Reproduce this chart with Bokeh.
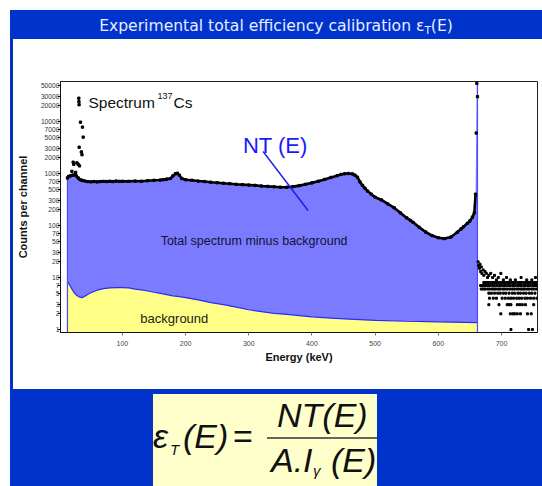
from bokeh.plotting import figure
from bokeh.models import Range1d, FixedTicker, Label, Div
from bokeh.layouts import column, row
from bokeh.embed import file_html
from bokeh.resources import INLINE

# ---------------- data ----------------
spec_energy = [13, 15, 18, 21, 24, 27, 30, 33, 36, 40, 45, 50, 55, 60, 65, 70, 75, 80,
               85, 90, 95, 100, 110, 120, 130, 140, 150, 160, 165, 170, 176, 180, 184,
               187, 190, 194, 200, 210, 220, 230, 240, 250, 260, 270, 280, 290, 300,
               310, 320, 330, 340, 350, 360, 370, 380, 390, 400, 410, 420, 430, 440,
               446, 452, 458, 464, 468, 472, 476, 480, 484, 488, 494, 500, 510, 520,
               530, 540, 550, 556, 560, 570, 580, 590, 600, 610, 620, 630, 636, 640,
               646, 650, 654, 657, 659, 660, 661, 662]
spec_counts = [820, 880, 900, 930, 950, 900, 820, 760, 740, 720, 700, 690, 700, 690, 700,
               705, 700, 710, 700, 715, 705, 710, 705, 715, 710, 725, 740, 750, 760, 780,
               800, 900, 990, 1010, 930, 800, 760, 740, 715, 700, 680, 665, 650, 635, 620,
               610, 600, 590, 575, 565, 555, 545, 545, 560, 585, 620, 660, 710, 770, 840,
               910, 960, 990, 1000, 980, 930, 850, 690, 590, 520, 460, 400, 350, 310, 260,
               220, 175, 140, 125, 115, 92, 75, 64, 58, 56, 60, 74, 86, 95, 110, 122, 145,
               175, 400, 6000, 54000, 30000]

bg_energy = [13, 14, 17, 20, 24, 28, 32, 36, 40, 45, 50, 60, 70, 80, 90, 100, 110, 120,
             130, 140, 150, 160, 170, 180, 190, 200, 220, 240, 260, 280, 300, 320, 340,
             360, 380, 400, 430, 460, 500, 550, 600, 662]
bg_counts = [8.3, 8.0, 7.0, 6.0, 5.0, 4.5, 4.2, 4.1, 4.3, 4.7, 5.1, 5.7, 6.1, 6.3, 6.4,
             6.4, 6.3, 6.0, 5.8, 5.5, 5.2, 4.95, 4.7, 4.45, 4.3, 4.1, 3.7, 3.3, 3.0, 2.7,
             2.4, 2.2, 2.05, 1.95, 1.85, 1.75, 1.65, 1.58, 1.5, 1.44, 1.4, 1.36]

xray_energy = [31, 31.2, 31.4, 33.6, 36.8, 37.9, 31.5, 35, 36, 22, 23, 28, 30, 32, 26, 20]
xray_counts = [28000, 24000, 21000, 9700, 7800, 5000, 3200, 2600, 2300, 1650, 1500,
               1600, 1500, 1400, 1050, 1100]

tail_upper_energy = [663, 664, 665, 666, 667, 668, 669, 671, 672, 674, 676, 678, 680, 683,
                     686, 689, 692, 695, 699, 703, 708, 714, 722, 731, 740, 748, 754]
tail_upper_counts = [20, 17, 15, 18, 13, 16, 12, 14, 11, 13, 12, 10, 11, 12, 10, 11, 9,
                     10, 12, 9, 10, 9, 9, 10, 9, 9, 10]
tail_row8 = [672, 675, 677, 680, 684, 687, 690, 692, 696, 700, 703, 706, 709, 712, 716,
             719, 722, 726, 729, 732, 736, 739, 742, 745, 749, 752, 755]
tail_row7 = [667, 670, 673, 676, 679, 682, 686, 689, 693, 697, 700, 704, 707, 711, 714,
             718, 721, 725, 728, 731, 735, 738, 742, 746, 750, 753, 756]
tail_row6 = [668, 671, 674, 678, 681, 685, 688, 691, 695, 698, 702, 705, 709, 713, 717,
             720, 724, 727, 731, 734, 737, 741, 744, 748, 751, 755]
tail_row5 = [680, 684, 689, 694, 698, 703, 707, 712, 717, 721, 726, 730, 735, 739, 744,
             748, 753]
tail_row4 = [681, 687, 692, 701, 706, 711, 715, 719, 724, 728, 732, 737, 741, 746, 751, 756]
tail_row3 = [680, 696, 709, 712, 715, 725, 729, 733, 738, 751]
tail_row2 = [699, 714, 718, 721, 725, 730, 741, 747]
tail_row1 = [715, 743, 749]

x_ticks = [100, 200, 300, 400, 500, 600, 700]
y_ticks = [1, 2, 3, 5, 7, 10, 20, 30, 50, 70, 100, 200, 300, 500, 700, 1000, 2000, 3000,
           5000, 7000, 10000, 20000, 30000, 50000]
y_tick_labels = ["1", "2", "3", "5", "7", "10", "20", "30", "50", "70", "100", "200",
                 "300", "500", "700", "1000", "2000", "3000", "5000", "7000", "10000",
                 "20000", "30000", "50000"]

pointer_energy = [322.7, 393.8]
pointer_counts = [2650, 194]

# ---------------- figure ----------------
Y0, Y1 = 0.876, 58750
p = figure(width=529, height=350, x_range=Range1d(2, 757), y_range=Range1d(Y0, Y1),
           y_axis_type="log", output_backend="svg", toolbar_location=None,
           min_border_left=46, min_border_right=5, min_border_top=42,
           min_border_bottom=57, margin=0)
p.grid.visible = False
p.outline_line_color = "#222222"
p.outline_line_width = 1

BLUE_FILL = "#7b7bff"
YEL_FILL = "#ffff88"

p.varea(x=spec_energy, y1=[Y0] * len(spec_energy), y2=spec_counts, fill_color=BLUE_FILL)
p.varea(x=bg_energy, y1=[Y0] * len(bg_energy), y2=bg_counts, fill_color=YEL_FILL)
p.line(bg_energy, bg_counts, line_color="#2a2aff", line_width=1.2)
p.segment(x0=[spec_energy[0], spec_energy[-1]], y0=[Y0, Y0],
          x1=[spec_energy[0], spec_energy[-1]], y1=[spec_counts[0], max(spec_counts)],
          line_color="#4a4aff", line_width=1.2)

p.line(spec_energy[:-3], spec_counts[:-3], line_color="black", line_width=2.6)
p.scatter(spec_energy, spec_counts, marker="square", size=2.3, color="black")
p.scatter(xray_energy, xray_counts, marker="square", size=2.3, color="black")

tail_e = list(tail_upper_energy)
tail_c = list(tail_upper_counts)
for lvl, es in [(8, tail_row8), (7, tail_row7), (6, tail_row6), (5, tail_row5),
                (4, tail_row4), (3, tail_row3), (2, tail_row2), (1, tail_row1)]:
    tail_e += es
    tail_c += [lvl] * len(es)
p.scatter(tail_e, tail_c, marker="square", size=2.0, color="black")

p.line(pointer_energy, pointer_counts, line_color="#1a1aee", line_width=1.4)

FONT = "Liberation Sans"
p.add_layout(Label(x=46.3, y=23200, text="Spectrum", text_font=FONT,
                   text_font_size="15.5px", text_baseline="alphabetic", text_color="#111111"))
p.add_layout(Label(x=155.5, y=31600, text="137", text_font=FONT,
                   text_font_size="9px", text_baseline="alphabetic", text_color="#111111"))
p.add_layout(Label(x=181, y=23200, text="Cs", text_font=FONT,
                   text_font_size="15.5px", text_baseline="alphabetic", text_color="#111111"))
p.add_layout(Label(x=290.7, y=3450, text="NT (E)", text_font=FONT,
                   text_font_size="22px", text_baseline="alphabetic", text_color="#1a1aff"))
p.add_layout(Label(x=160.5, y=49.9, text="Total spectrum minus background", text_font=FONT,
                   text_font_size="12.5px", text_baseline="alphabetic", text_color="#111133"))
p.add_layout(Label(x=128.4, y=1.61, text="background", text_font=FONT,
                   text_font_size="13px", text_baseline="alphabetic", text_color="#222211"))

# axes
p.xaxis.ticker = FixedTicker(ticks=x_ticks)
p.xaxis.major_label_text_font = FONT
p.xaxis.major_label_text_font_size = "7px"
p.xaxis.major_label_text_color = "#444444"
p.xaxis.major_tick_out = 3
p.xaxis.major_tick_in = 0
p.xaxis.major_tick_line_color = "#777777"
p.xaxis.minor_tick_line_color = None
p.xaxis.major_label_standoff = 5
p.xaxis.axis_label = "Energy (keV)"
p.xaxis.axis_label_text_font = FONT
p.xaxis.axis_label_text_font_style = "bold"
p.xaxis.axis_label_text_font_size = "11px"
p.xaxis.axis_label_text_color = "#111111"
p.xaxis.axis_label_standoff = 2
p.xaxis.axis_line_color = "#111111"

p.yaxis.ticker = FixedTicker(ticks=y_ticks)
p.yaxis.major_label_overrides = {t: s for t, s in zip(y_ticks, y_tick_labels)}
p.yaxis.major_label_text_font = FONT
p.yaxis.major_label_text_font_size = "6.7px"
p.yaxis.major_label_text_color = "#333333"
p.yaxis.major_tick_out = 3
p.yaxis.major_tick_in = 0
p.yaxis.minor_tick_line_color = None
p.yaxis.major_label_standoff = -2
p.yaxis.axis_label = "Counts per channel"
p.yaxis.axis_label_text_font = FONT
p.yaxis.axis_label_text_font_style = "bold"
p.yaxis.axis_label_text_font_size = "11px"
p.yaxis.axis_label_text_color = "#111111"
p.yaxis.axis_label_standoff = 9
p.yaxis.axis_line_color = "#111111"

# ---------------- slide decoration ----------------
SLIDE_BLUE = "#0033cc"
title_svg = (
    '<svg width="532" height="29" style="display:block">'
    '<text x="266" y="20.5" text-anchor="middle" '
    'style="font-family:\'DejaVu Sans\';font-size:15.6px;fill:#e8edff">'
    'Experimental total efficiency calibration '
    'ε<tspan style="font-size:10.5px" dy="3">T</tspan>'
    '<tspan dy="-3">(E)</tspan></text></svg>'
)
formula_svg = (
    '<svg width="532" height="97" style="display:block">'
    '<rect x="143" y="5" width="224" height="92" fill="#ffffcc"/>'
    '<g font-family="Liberation Sans" font-style="italic" fill="#111111">'
    '<text x="143" y="59" font-size="34px">ε</text>'
    '<text x="160" y="66" font-size="15px">T</text>'
    '<text x="173" y="59" font-size="34px">(E)</text>'
    '<text x="223" y="59" font-size="34px" font-style="normal">=</text>'
    '<text x="267" y="38" font-size="34px">NT(E)</text>'
    '<text x="261" y="83" font-size="34px">A.I</text>'
    '<text x="303" y="87" font-size="15px">γ</text>'
    '<text x="321" y="83" font-size="34px">(E)</text>'
    '</g>'
    '<line x1="257" y1="49" x2="367" y2="49" stroke="#66665a" stroke-width="2"/>'
    '</svg>'
)

title_div = Div(text=title_svg, width=532, height=29, margin=0,
                styles={"background-color": SLIDE_BLUE})
strip_div = Div(text="", width=3, height=350, margin=0,
                styles={"background-color": SLIDE_BLUE})
bottom_div = Div(text=formula_svg, width=532, height=97, margin=0,
                 styles={"background-color": SLIDE_BLUE})

layout = column(title_div, row(strip_div, p, spacing=0, margin=0), bottom_div,
                spacing=0, margin=(10, 0, 0, 10))

open("out.html", "w").write(file_html(layout, INLINE))
